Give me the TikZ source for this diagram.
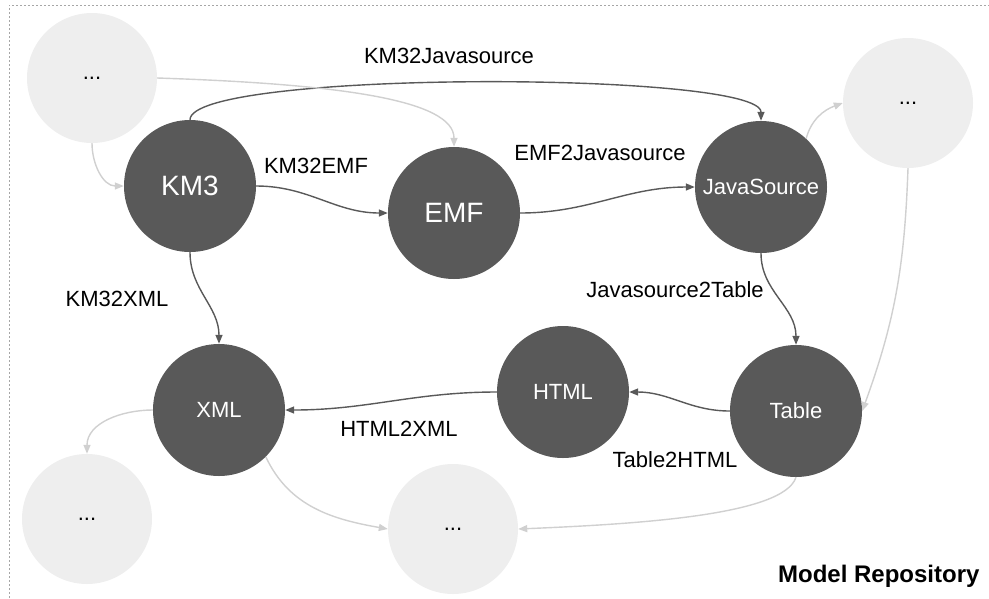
\documentclass[tikz,border=0pt]{standalone}
\usepackage{fontspec}
\setmainfont{Liberation Sans}
\usepackage{xcolor}
\usetikzlibrary{arrows.meta, positioning}

\definecolor{modelgray}{HTML}{595959}
\definecolor{moregray}{HTML}{EEEEEE}
\definecolor{faintgray}{HTML}{D0D0D0}

\begin{document}
\begin{tikzpicture}[
    x=1pt, y=1pt,
    every node/.style={align=center, font=\fontsize{22}{26}\selectfont},
    model/.style={circle, fill=modelgray, text=white, minimum size=132pt, inner sep=0pt},
    more/.style={circle, fill=moregray, minimum size=130pt, inner sep=0pt},
    lbl/.style={anchor=base, text=black},
    arrow/.style={-{Triangle[length=9pt, width=7pt]}, line width=1.4pt, draw=modelgray},
    faint/.style={-{Triangle[length=9pt, width=7pt]}, line width=1.4pt, draw=faintgray},
    frame/.style={gray!70, line width=0.8pt, dash pattern=on 2pt off 2pt}
]
\useasboundingbox (0,0) rectangle (989,-598);
\draw[frame] (9,-598) |- (989,-5);

% Nodes
\node[more] (moreA) at (92,-78) {...};
\node[model, font=\fontsize{28}{32}\selectfont] (km3) at (190,-186) {KM3};
\node[model, font=\fontsize{28}{32}\selectfont] (emf) at (454,-213) {EMF};
\node[model] (java) at (761,-187) {JavaSource};
\node[more] (moreB) at (908,-103) {...};
\node[model] (xml) at (219,-410) {XML};
\node[model] (html) at (563,-392) {HTML};
\node[model] (table) at (796,-411) {Table};
\node[more] (moreC) at (87,-519) {...};
\node[more] (moreD) at (453,-529) {...};

% Labels
\node[lbl] (lkmjava) at (449,-63) {KM32Javasource};
\node[lbl] (lkmemf) at (316,-173) {KM32EMF};
\node[lbl] (lemfjava) at (600,-160) {EMF2Javasource};
\node[lbl] (ljavatable) at (675,-297) {Javasource2Table};
\node[lbl] (lkmxml) at (117,-306) {KM32XML};
\node[lbl] (lhtmlxml) at (399,-436) {HTML2XML};
\node[lbl] (ltablehtml) at (675,-467) {Table2HTML};
\node[anchor=base east, font=\bfseries\fontsize{24}{28}\selectfont] (repo) at (983,-582) {Model Repository};

% Arrows
\draw[arrow] (km3.north) .. controls +(0,50) and +(0,50) .. (java.north);
\draw[arrow] (km3) to[out=0, in=180] (emf);
\draw[arrow] (emf) to[out=0, in=180] (java);
\draw[arrow] (java.south) to[out=-90, in=90] (table.north);
\draw[arrow] (table.west) to[out=180, in=0] (html.east);
\draw[arrow] (html.west) to[out=180, in=0] (xml.east);
\draw[arrow] (km3.south) to[out=-90, in=90] (xml.north);

% Other models
\draw[faint] (moreA.south) to[out=-90, in=180] (km3.west);
\draw[faint] (moreA.east) .. controls (340,-84) and (454,-100) .. (emf.north);
\draw[faint] (java.47) to[out=75, in=200] (moreB.west);
\draw[faint] (moreB.south) to[out=-92, in=70] (table.east);
\draw[faint] (xml.west) to[out=180, in=90] (moreC.north);
\draw[faint] (xml.-45) to[out=-65, in=170] (moreD.west);
\draw[faint] (table.south) .. controls +(-12,-38) and +(120,5) .. (moreD.east);

\end{tikzpicture}
\end{document}
